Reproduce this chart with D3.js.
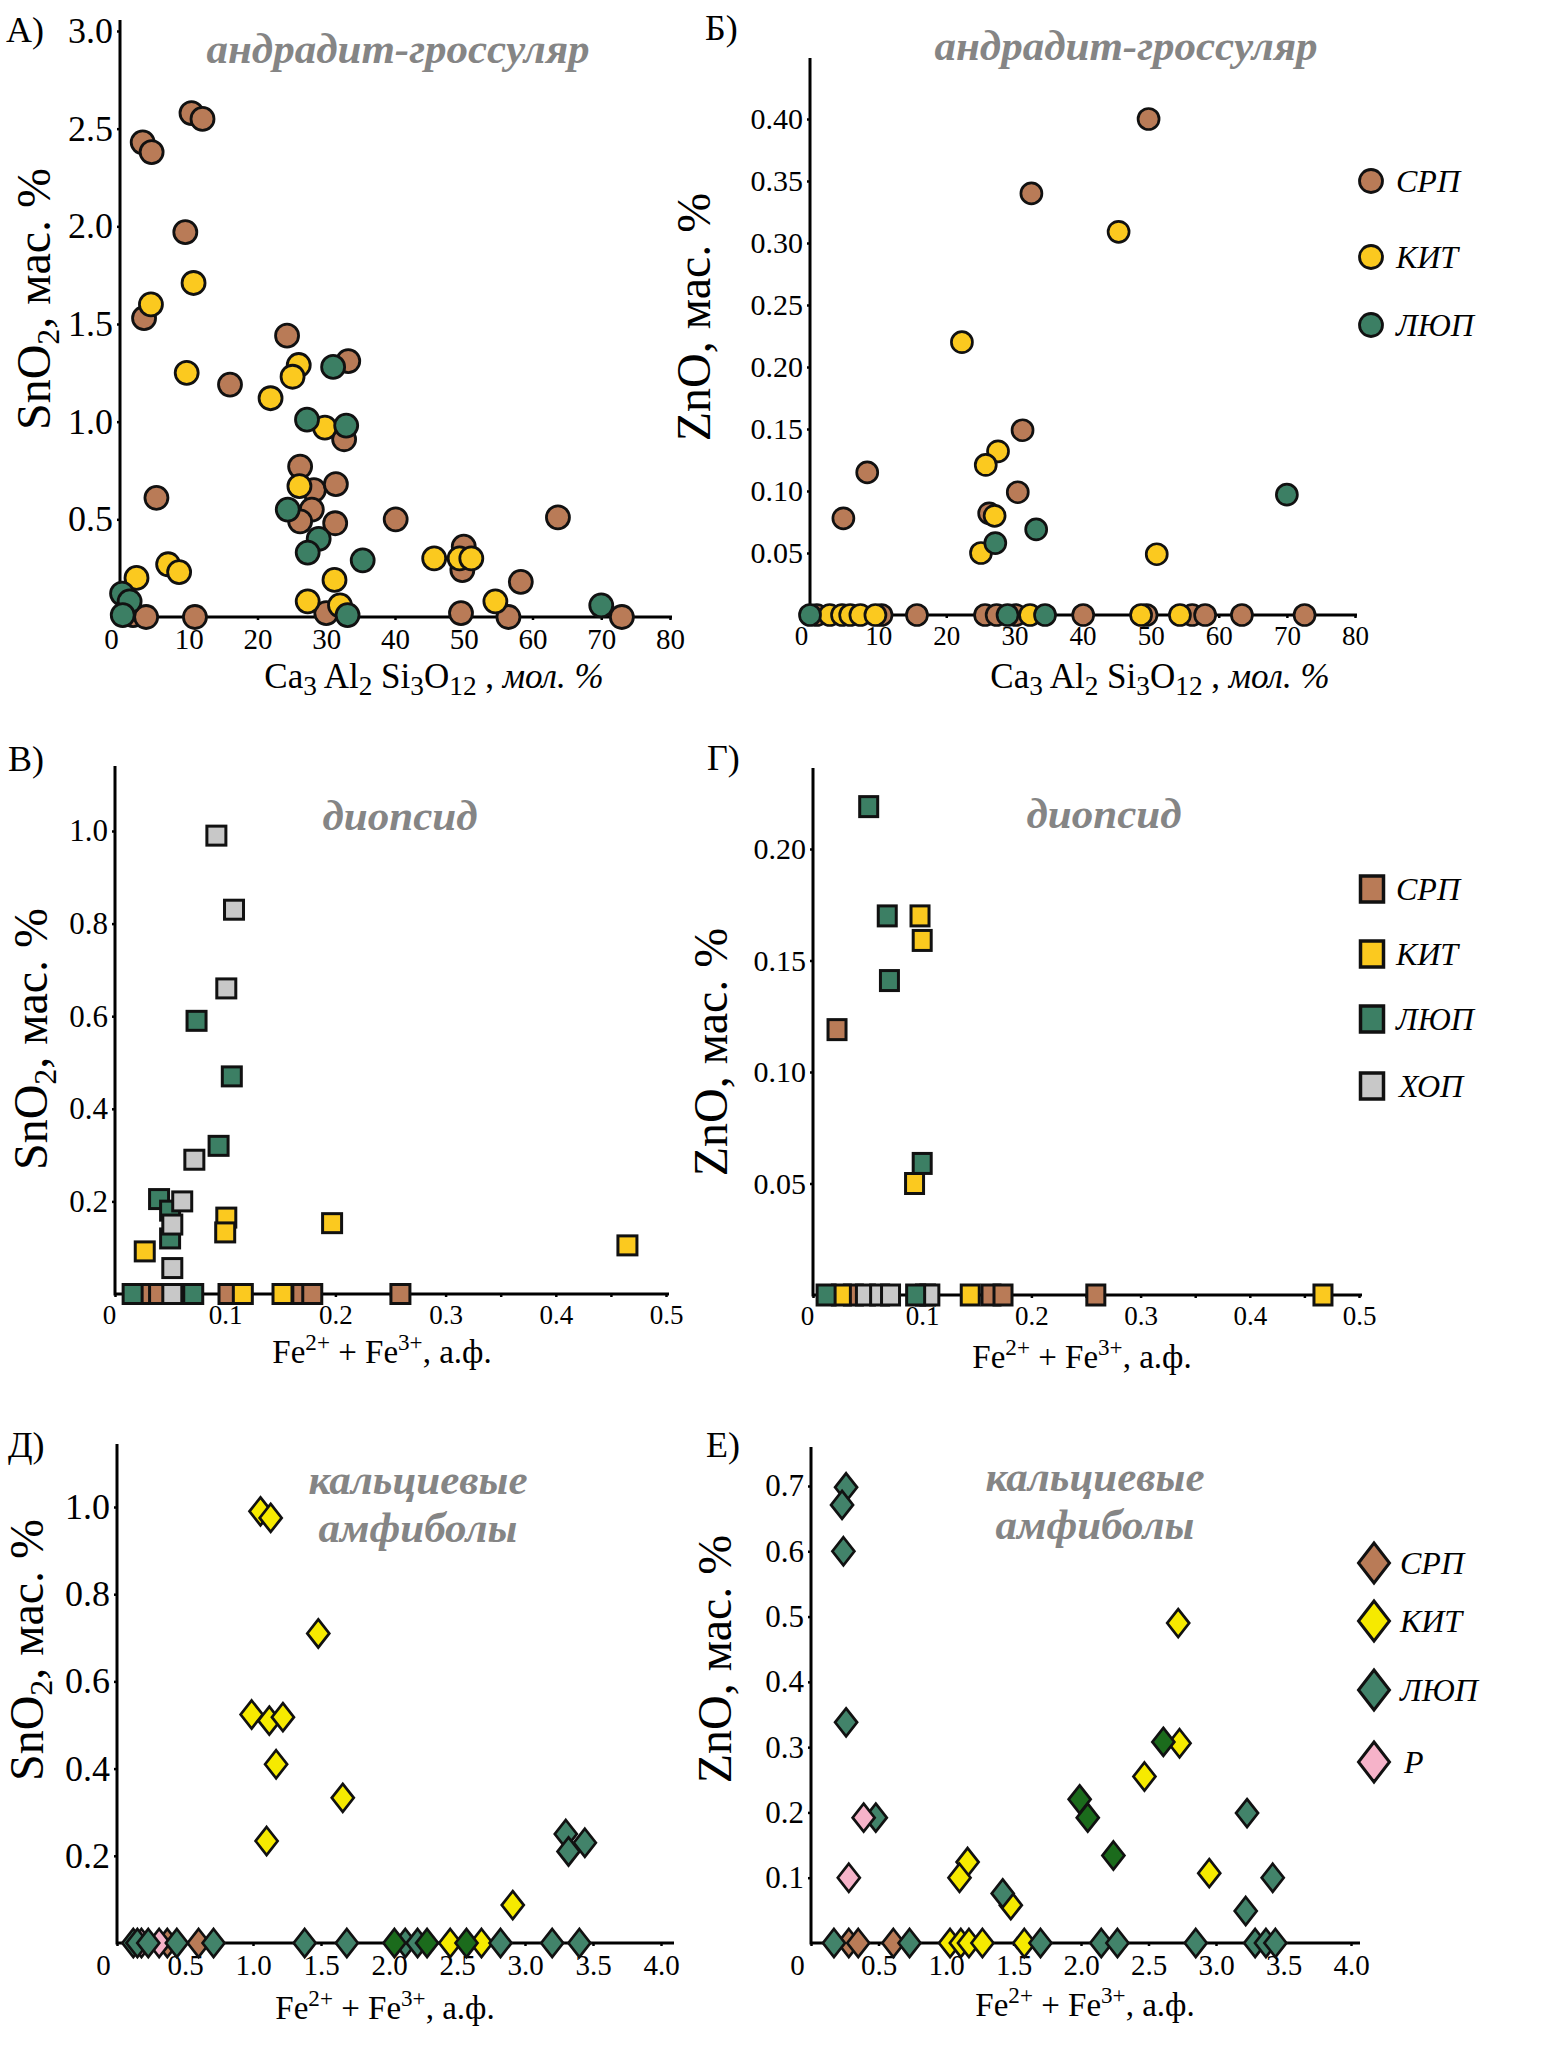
<!DOCTYPE html>
<html>
<head>
<meta charset="utf-8">
<script src="https://cdn.jsdelivr.net/npm/d3@7"></script>
<style>
  body { margin: 0; background: #fff; }
  svg { display: block; }
</style>
</head>
<body>
<div id="chart"></div>
<script>
// Sn and Zn in skarn minerals: garnet, diopside, calcic amphiboles

// --- groups ---
var groups = ["СРП", "КИТ", "ЛЮП", "ХОП", "Р"];

// --- А) garnet, SnO2 vs grossular (mol. %) ---
var grtSn_SRP = [[3.3,2.43],[4.6,2.38],[10.4,2.58],[12.0,2.55],[9.5,1.97],[3.5,1.53],[16.0,1.19],[24.3,1.44],
  [33.2,1.31],[32.6,0.91],[26.2,0.77],[28.2,0.65],[31.4,0.68],[27.9,0.55],[26.2,0.49],[31.3,0.48],[5.3,0.61],
  [40.1,0.50],[63.7,0.51],[50.0,0.36],[49.8,0.24],[58.3,0.18],[1.9,0.01],[3.8,0],[10.9,0],[30.0,0.02],
  [49.6,0.02],[56.5,0],[73.0,0]];
var grtSn_KIT = [[4.5,1.60],[10.7,1.71],[9.7,1.25],[21.9,1.12],[26.0,1.29],[25.1,1.23],[29.8,0.97],[26.1,0.67],
  [2.4,0.20],[7.0,0.27],[8.6,0.23],[31.2,0.19],[27.3,0.08],[32.0,0.06],[45.7,0.30],[49.4,0.30],[51.1,0.30],[54.6,0.08]];
var grtSn_LUP = [[31.0,1.28],[27.2,1.01],[32.9,0.98],[24.4,0.55],[28.9,0.40],[27.3,0.33],[35.3,0.29],
  [0.3,0.12],[1.4,0.08],[0.4,0.01],[33.1,0.01],[70.0,0.06]];

// --- Б) garnet, ZnO vs grossular ---
var grtZn_SRP = [[49.7,0.40],[32.5,0.34],[31.2,0.149],[8.4,0.115],[4.9,0.078],[30.5,0.099],[26.3,0.082],
  [1.0,0],[10.5,0],[15.7,0],[25.7,0],[27.4,0],[30.2,0],[40.1,0],[49.4,0],[56.1,0],[58.0,0],[63.4,0],[72.6,0]];
var grtZn_KIT = [[45.3,0.309],[22.3,0.220],[27.6,0.132],[25.8,0.121],[27.1,0.080],[25.1,0.050],[50.9,0.049],
  [2.9,0],[4.7,0],[5.9,0],[7.4,0],[9.6,0],[32.3,0],[48.6,0],[54.3,0]];
var grtZn_LUP = [[70.0,0.097],[33.2,0.069],[27.2,0.058],[0,0],[29.0,0],[34.5,0]];

// --- В) diopside, SnO2 vs Fe2+ + Fe3+ ---
var diSn_SRP = [[0.028,0],[0.040,0],[0.103,0],[0.170,0],[0.179,0],[0.259,0]];
var diSn_KIT = [[0.101,0.165],[0.100,0.133],[0.197,0.153],[0.027,0.092],[0.465,0.105],[0.116,0],[0.152,0]];
var diSn_LUP = [[0.074,0.59],[0.106,0.47],[0.094,0.32],[0.040,0.205],[0.050,0.18],[0.050,0.12],[0.016,0],[0.071,0]];
var diSn_HOP = [[0.092,0.99],[0.108,0.83],[0.101,0.66],[0.072,0.29],[0.061,0.20],[0.052,0.15],[0.052,0.056],[0.052,0]];

// --- Г) diopside, ZnO ---
var diZn_SRP = [[0.022,0.119],[0.037,0],[0.163,0],[0.174,0],[0.259,0]];
var diZn_KIT = [[0.098,0.170],[0.100,0.159],[0.093,0.050],[0.026,0],[0.144,0],[0.467,0]];
var diZn_HOP = [[0.048,0],[0.061,0],[0.071,0],[0.103,0],[0.107,0]];
var diZn_LUP = [[0.051,0.219],[0.068,0.170],[0.070,0.141],[0.100,0.059],[0.012,0],[0.094,0]];

// --- Д) calcic amphiboles, SnO2 ---
var amSn_SRP = [[0.37,0],[0.60,0]];
var amSn_R = [[0.18,0],[0.31,0]];
var amSn_KIT = [[1.055,0.99],[1.13,0.975],[1.48,0.71],[0.99,0.524],[1.12,0.51],[1.22,0.518],[1.17,0.41],
  [1.66,0.333],[1.10,0.234],[2.91,0.087],[2.45,0],[2.68,0]];
var amSn_LUP = [[3.30,0.25],[3.32,0.21],[3.44,0.23],[0.12,0],[0.15,0],[0.23,0],[0.44,0],[0.71,0],[1.38,0],
  [1.69,0],[2.12,0],[2.21,0],[2.82,0],[3.20,0],[3.40,0]];
var amSn_LUP2 = [[2.04,0],[2.28,0],[2.57,0]];

// --- Е) calcic amphiboles, ZnO ---
var amZn_SRP = [[0.28,0],[0.35,0],[0.61,0]];
var amZn_KIT = [[2.72,0.49],[2.73,0.306],[2.47,0.255],[2.95,0.107],[1.16,0.124],[1.10,0.100],[1.48,0.058],
  [1.03,0],[1.11,0],[1.17,0],[1.27,0],[1.58,0]];
var amZn_LUP = [[0.26,0.698],[0.23,0.671],[0.24,0.60],[0.26,0.338],[0.48,0.192],[1.42,0.076],[3.23,0.199],
  [3.22,0.049],[3.42,0.10],[0.17,0],[0.73,0],[1.70,0],[2.15,0],[2.27,0],[2.85,0],[3.29,0],[3.37,0],[3.44,0]];
var amZn_LUP2 = [[1.99,0.22],[2.05,0.192],[2.24,0.134],[2.61,0.308]];
var amZn_R = [[0.39,0.192],[0.28,0.10]];

// --- ticks ---
var grtSnTicks = [0.5, 1.0, 1.5, 2.0, 2.5, 3.0];
var grtZnTicks = [0.05, 0.10, 0.15, 0.20, 0.25, 0.30, 0.35, 0.40];
var grtXTicks = [0, 10, 20, 30, 40, 50, 60, 70, 80];
var diSnTicks = [0.2, 0.4, 0.6, 0.8, 1.0];
var diZnTicks = [0.05, 0.10, 0.15, 0.20];
var diXTicks = [0, 0.05, 0.1, 0.15, 0.2, 0.25, 0.3, 0.35, 0.4, 0.45, 0.5];
var amSnTicks = [0.2, 0.4, 0.6, 0.8, 1.0];
var amZnTicks = [0.1, 0.2, 0.3, 0.4, 0.5, 0.6, 0.7];
var amXTicks = [0, 0.5, 1.0, 1.5, 2.0, 2.5, 3.0, 3.5, 4.0];

// colours
var cSRP = "#b97b57", cKIT = "#fbc91f", cLUP = "#3c7f64", cHOP = "#c8c8c8";
var cKITam = "#f6ea00", cLUPam = "#42836a", cLUP2 = "#1b6b1c", cR = "#f6b3c9";

var FONT = "'Liberation Serif', 'Times New Roman', serif";

var svg = d3.select("#chart").append("svg")
  .attr("width", 1568).attr("height", 2048)
  .style("background", "#fff");

function marker(sel, shape, size) {
  if (shape == "circle") {
    sel.append("circle").attr("r", size.r);
  } else if (shape == "square") {
    sel.append("rect").attr("x", -size.w/2).attr("y", -size.h/2).attr("width", size.w).attr("height", size.h);
  } else {
    var w = size.w/2, h = size.h/2;
    sel.append("path").attr("d", "M0," + (-h) + "L" + w + ",0L0," + h + "L" + (-w) + ",0Z");
  }
}

function drawPanel(p) {
  var x = d3.scaleLinear().domain(p.xDomain).range([p.left, p.right]);
  var y = d3.scaleLinear().domain(p.yDomain).range([p.bottom, p.top]);
  var g = svg.append("g");

  // y ticks
  var ya = g.append("g").attr("transform", "translate(" + p.left + ",0)")
    .call(d3.axisLeft(y).tickValues(p.yTicks).tickFormat(d3.format(p.yFmt)).tickSize(3).tickPadding(4));
  ya.select(".domain").remove();
  ya.attr("font-family", FONT).attr("font-size", p.yFont);
  ya.selectAll("text").attr("fill", "#000");
  ya.selectAll("line").attr("stroke-width", 2.5);

  // x ticks
  var xa = g.append("g").attr("transform", "translate(0," + p.bottom + ")")
    .call(d3.axisBottom(x).tickValues(p.xTicks).tickFormat(p.xFmt).tickSize(3).tickPadding(p.xPad));
  xa.select(".domain").remove();
  xa.attr("font-family", FONT).attr("font-size", p.xFont);
  xa.selectAll("text").attr("fill", "#000");
  xa.selectAll("line").attr("stroke-width", 2.5);
  xa.selectAll("text").filter(function(d) { return d === 0; }).attr("dx", p.zeroShift);

  // axis lines
  g.append("path")
    .attr("d", "M" + p.left + "," + p.axisTop + "V" + p.bottom + "H" + p.axisRight)
    .attr("fill", "none").attr("stroke", "#000").attr("stroke-width", 3);

  // points
  p.series.forEach(function(s) {
    g.append("g").selectAll("g")
      .data(s.data)
      .enter().append("g")
      .attr("transform", function(d) { return "translate(" + x(d[0]) + "," + y(d[1]) + ")"; })
      .call(marker, p.shape, p.size)
      .selectAll("circle,rect,path")
      .attr("fill", s.color).attr("stroke", "#111").attr("stroke-width", p.stroke);
  });

  // panel letter
  g.append("text").attr("x", p.letterPos[0]).attr("y", p.letterPos[1])
    .attr("font-family", FONT).attr("font-size", 36).text(p.letter);

  // mineral title
  p.title.forEach(function(t, i) {
    g.append("text").attr("x", p.titlePos[0]).attr("y", p.titlePos[1] + i * p.titleStep)
      .attr("text-anchor", "middle").attr("font-family", FONT).attr("font-size", p.titleFont)
      .attr("font-weight", "bold").attr("font-style", "italic").attr("fill", "#858585")
      .text(t);
  });

  // y title
  var yt = g.append("text")
    .attr("transform", "translate(" + p.yTitlePos[0] + "," + p.yTitlePos[1] + ") rotate(-90)")
    .attr("text-anchor", "middle").attr("font-family", FONT).attr("font-size", 48);
  if (p.oxide == "SnO") {
    yt.append("tspan").text("SnO");
    yt.append("tspan").attr("dy", 9).attr("font-size", 32).text("2");
    yt.append("tspan").attr("dy", -9).text(",  мас. %");
  } else {
    yt.append("tspan").text("ZnO, мас. %");
  }

  // x title
  var fs = p.xTitleFont;
  var xt = g.append("text").attr("x", p.xTitlePos[0]).attr("y", p.xTitlePos[1])
    .attr("text-anchor", "middle").attr("font-family", FONT).attr("font-size", fs);
  if (p.xKind == "grs") {
    var parts = [["Ca", "3"], [" Al", "2"], [" Si", "3"], ["O", "12"]];
    parts.forEach(function(pt, i) {
      xt.append("tspan").attr("dy", i === 0 ? 0 : -7).text(pt[0]);
      xt.append("tspan").attr("dy", 7).attr("font-size", fs * 0.78).text(pt[1]);
    });
    xt.append("tspan").attr("dy", -7).text(" , ");
    xt.append("tspan").attr("font-style", "italic").text("мол. %");
  } else {
    xt.append("tspan").text("Fe");
    xt.append("tspan").attr("dy", -13).attr("font-size", fs * 0.7).text("2+");
    xt.append("tspan").attr("dy", 13).text(" +  Fe");
    xt.append("tspan").attr("dy", -13).attr("font-size", fs * 0.7).text("3+");
    xt.append("tspan").attr("dy", 13).text(", а.ф.");
  }

  // legend
  if (p.legend) {
    p.legend.items.forEach(function(it, i) {
      var cy = p.legend.ys[i];
      svg.append("g").attr("transform", "translate(" + p.legend.x + "," + cy + ")")
        .call(marker, p.shape, p.legend.size)
        .selectAll("circle,rect,path")
        .attr("fill", it.color).attr("stroke", "#111").attr("stroke-width", p.legend.stroke);
      svg.append("text").attr("x", p.legend.tx + (it.dx || 0)).attr("y", cy + 11)
        .attr("font-family", FONT).attr("font-size", 32).attr("font-style", "italic")
        .text(it.name);
    });
  }
}

var fmt0 = function(d) { return d === 0 ? "0" : String(d); };
var fmtDi = function(d) { var r = Math.round(d * 100); return r % 10 === 0 ? (r === 0 ? "0" : d3.format(".1f")(d)) : ""; };
var fmtAm = function(d) { return d === 0 ? "0" : d3.format(".1f")(d); };

// А
drawPanel({
  letter: "А)", letterPos: [6, 42],
  xDomain: [0, 80], yDomain: [0, 3.0], left: 120, right: 670, bottom: 617, top: 31,
  axisTop: 20, axisRight: 672,
  yTicks: grtSnTicks, yFmt: ".1f", yFont: 36, xTicks: grtXTicks, xFmt: fmt0, xFont: 29, xPad: 8, zeroShift: -9,
  shape: "circle", size: {r: 11.5}, stroke: 2.8,
  series: [{data: grtSn_SRP, color: cSRP}, {data: grtSn_KIT, color: cKIT}, {data: grtSn_LUP, color: cLUP}],
  title: ["андрадит-гроссуляр"], titlePos: [398, 63], titleStep: 0, titleFont: 43,
  oxide: "SnO", yTitlePos: [50, 299],
  xKind: "grs", xTitlePos: [434, 688], xTitleFont: 35
});

// Б
drawPanel({
  letter: "Б)", letterPos: [705, 40],
  xDomain: [0, 80], yDomain: [0, 0.40], left: 810, right: 1355, bottom: 615, top: 119,
  axisTop: 58, axisRight: 1357,
  yTicks: grtZnTicks, yFmt: ".2f", yFont: 30, xTicks: grtXTicks, xFmt: fmt0, xFont: 27, xPad: 8, zeroShift: -9,
  shape: "circle", size: {r: 10.5}, stroke: 2.7,
  series: [{data: grtZn_SRP, color: cSRP}, {data: grtZn_KIT, color: cKIT}, {data: grtZn_LUP, color: cLUP}],
  title: ["андрадит-гроссуляр"], titlePos: [1126, 60], titleStep: 0, titleFont: 43,
  oxide: "ZnO", yTitlePos: [710, 317],
  xKind: "grs", xTitlePos: [1160, 688], xTitleFont: 35,
  legend: {x: 1371, tx: 1396, ys: [181, 257, 325], size: {r: 11.5}, stroke: 2.8,
    items: [{name: groups[0], color: cSRP}, {name: groups[1], color: cKIT}, {name: groups[2], color: cLUP}]}
});

// В
drawPanel({
  letter: "В)", letterPos: [8, 771],
  xDomain: [0, 0.5], yDomain: [0, 1.0], left: 115, right: 666, bottom: 1294, top: 831,
  axisTop: 766, axisRight: 669,
  yTicks: diSnTicks, yFmt: ".1f", yFont: 31, xTicks: diXTicks, xFmt: fmtDi, xFont: 27, xPad: 8, zeroShift: -6,
  shape: "square", size: {w: 19, h: 19}, stroke: 3,
  series: [{data: diSn_SRP, color: cSRP}, {data: diSn_KIT, color: cKIT}, {data: diSn_LUP, color: cLUP}, {data: diSn_HOP, color: cHOP}],
  title: ["диопсид"], titlePos: [400, 830], titleStep: 0, titleFont: 43,
  oxide: "SnO", yTitlePos: [47, 1039],
  xKind: "fe", xTitlePos: [382, 1363], xTitleFont: 33
});

// Г
drawPanel({
  letter: "Г)", letterPos: [707, 770],
  xDomain: [0, 0.5], yDomain: [0, 0.20], left: 813, right: 1359, bottom: 1295, top: 849,
  axisTop: 768, axisRight: 1362,
  yTicks: diZnTicks, yFmt: ".2f", yFont: 30, xTicks: diXTicks, xFmt: fmtDi, xFont: 27, xPad: 8, zeroShift: -6,
  shape: "square", size: {w: 18, h: 20}, stroke: 3,
  series: [{data: diZn_SRP, color: cSRP}, {data: diZn_KIT, color: cKIT}, {data: diZn_HOP, color: cHOP}, {data: diZn_LUP, color: cLUP}],
  title: ["диопсид"], titlePos: [1104, 828], titleStep: 0, titleFont: 43,
  oxide: "ZnO", yTitlePos: [727, 1052],
  xKind: "fe", xTitlePos: [1082, 1368], xTitleFont: 33,
  legend: {x: 1372, tx: 1396, ys: [889, 954, 1019, 1086], size: {w: 23, h: 26}, stroke: 3.5,
    items: [{name: groups[0], color: cSRP}, {name: groups[1], color: cKIT}, {name: groups[2], color: cLUP}, {name: groups[3], color: cHOP, dx: 3}]}
});

// Д
drawPanel({
  letter: "Д)", letterPos: [8, 1457],
  xDomain: [0, 4.0], yDomain: [0, 1.0], left: 117, right: 661, bottom: 1943, top: 1507,
  axisTop: 1444, axisRight: 674,
  yTicks: amSnTicks, yFmt: ".1f", yFont: 36, xTicks: amXTicks, xFmt: fmtAm, xFont: 29, xPad: 8, zeroShift: -14,
  shape: "diamond", size: {w: 22, h: 28}, stroke: 2.7,
  series: [{data: amSn_SRP, color: cSRP}, {data: amSn_R, color: cR}, {data: amSn_KIT, color: cKITam},
    {data: amSn_LUP, color: cLUPam}, {data: amSn_LUP2, color: cLUP2}],
  title: ["кальциевые", "амфиболы"], titlePos: [418, 1494], titleStep: 48, titleFont: 43,
  oxide: "SnO", yTitlePos: [43, 1650],
  xKind: "fe", xTitlePos: [385, 2019], xTitleFont: 33
});

// Е
drawPanel({
  letter: "Е)", letterPos: [706, 1457],
  xDomain: [0, 4.0], yDomain: [0, 0.7], left: 811, right: 1351, bottom: 1943, top: 1486,
  axisTop: 1447, axisRight: 1360,
  yTicks: amZnTicks, yFmt: ".1f", yFont: 31, xTicks: amXTicks, xFmt: fmtAm, xFont: 29, xPad: 8, zeroShift: -14,
  shape: "diamond", size: {w: 22, h: 28}, stroke: 2.7,
  series: [{data: amZn_SRP, color: cSRP}, {data: amZn_KIT, color: cKITam}, {data: amZn_LUP, color: cLUPam},
    {data: amZn_LUP2, color: cLUP2}, {data: amZn_R, color: cR}],
  title: ["кальциевые", "амфиболы"], titlePos: [1095, 1491], titleStep: 48, titleFont: 43,
  oxide: "ZnO", yTitlePos: [731, 1659],
  xKind: "fe", xTitlePos: [1085, 2016], xTitleFont: 33,
  legend: {x: 1374, tx: 1400, ys: [1563, 1621, 1690, 1762], size: {w: 31, h: 40}, stroke: 3,
    items: [{name: groups[0], color: cSRP}, {name: groups[1], color: cKITam}, {name: groups[2], color: cLUPam}, {name: groups[4], color: cR, dx: 4}]}
});
</script>
</body>
</html>
